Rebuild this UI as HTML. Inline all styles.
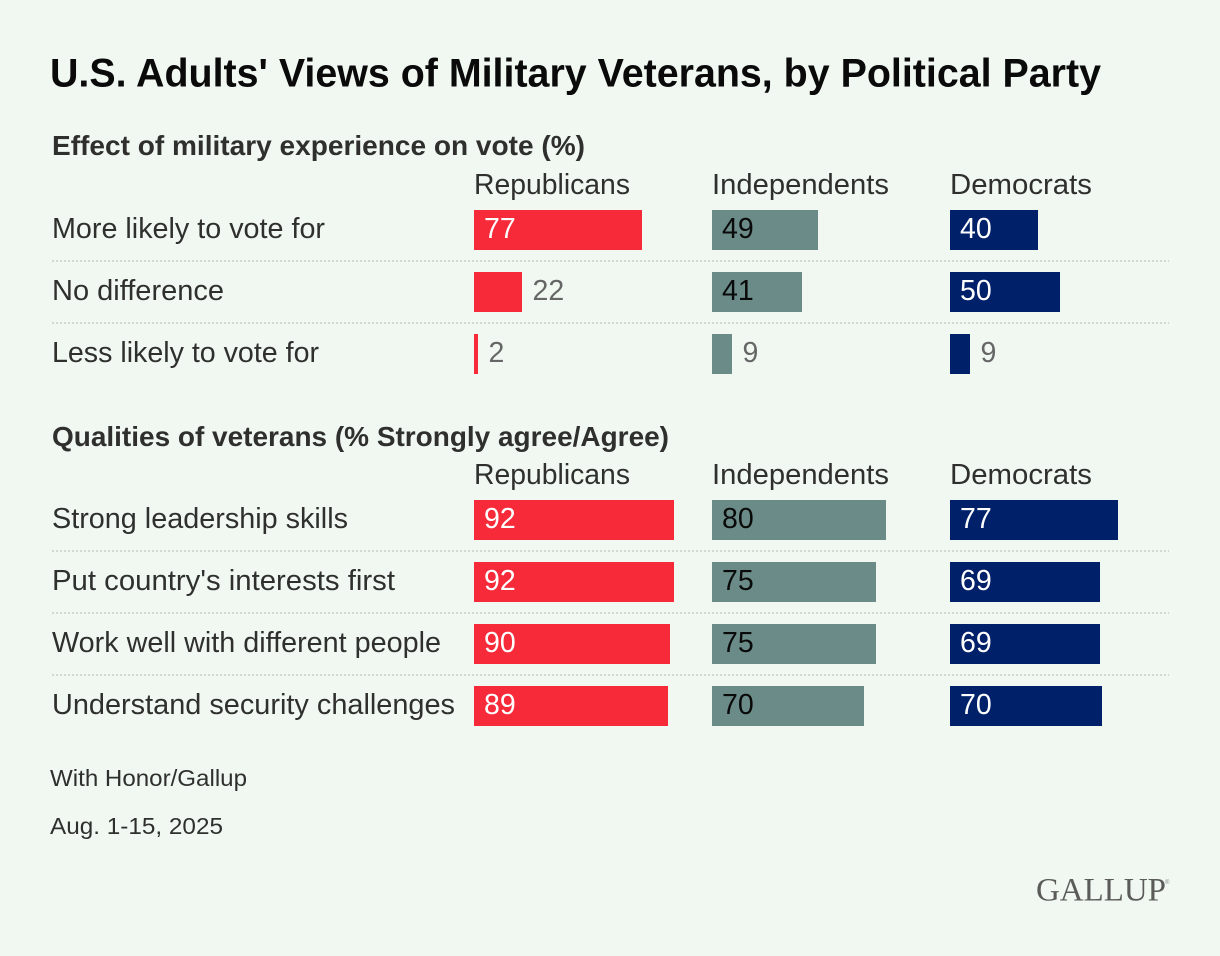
<!DOCTYPE html>
<html lang="en">
<head>
<meta charset="utf-8">
<title>U.S. Adults' Views of Military Veterans, by Political Party</title>
<style>
html,body{margin:0;padding:0;background:#f1f8f1;}
svg{display:block;}
text{font-family:"Liberation Sans",sans-serif;}
</style>
</head>
<body>
<svg id="chart" width="1220" height="956" viewBox="0 0 1220 956" xmlns="http://www.w3.org/2000/svg">
<rect x="0" y="0" width="1220" height="956" fill="#f1f8f1"/>
<text x="50" y="86.5" font-size="39.5" font-weight="700" fill="#0a0a0a" textLength="1051" lengthAdjust="spacingAndGlyphs">U.S. Adults' Views of Military Veterans, by Political Party</text>
<text x="50" y="786" font-size="23.5" fill="#2f302e" textLength="197" lengthAdjust="spacingAndGlyphs">With Honor/Gallup</text>
<text x="50" y="834" font-size="23.5" fill="#2f302e" textLength="173" lengthAdjust="spacingAndGlyphs">Aug. 1-15, 2025</text>
<text x="1036" y="900.5" font-size="33" fill="#5b5b59" style="font-family:'Liberation Serif',serif" textLength="130" lengthAdjust="spacingAndGlyphs">GALLUP</text>
<text x="1165" y="884" font-size="6" fill="#8a8a88">®</text>
</svg>
<script>
const voteTitle = "Effect of military experience on vote (%)";
const voteCategories = ["More likely to vote for", "No difference", "Less likely to vote for"];
const voteRepublicans = [77, 22, 2];
const voteIndependents = [49, 41, 9];
const voteDemocrats = [40, 50, 9];

const qualityTitle = "Qualities of veterans (% Strongly agree/Agree)";
const qualityCategories = ["Strong leadership skills", "Put country's interests first", "Work well with different people", "Understand security challenges"];
const qualityRepublicans = [92, 92, 90, 89];
const qualityIndependents = [80, 75, 75, 70];
const qualityDemocrats = [77, 69, 69, 70];

const partyNames = ["Republicans", "Independents", "Democrats"];

const svg = document.getElementById('chart');
const NS = 'http://www.w3.org/2000/svg';
const UNIT = 2.18;
const ROW_STEP = 62;
const BAR_H = 40;
const LEFT = 52;
const RIGHT = 1169;
const INSIDE_MIN = 30;
const colOrigin = [474, 712, 950];
const colFill = ['#f72a3a', '#6a8b87', '#002169'];
const insideInk = ['#ffffff', '#0a0a0a', '#ffffff'];
const headWidth = {"Republicans": 156, "Independents": 177, "Democrats": 142};
const textWidth = {
  "Effect of military experience on vote (%)": 533,
  "Qualities of veterans (% Strongly agree/Agree)": 617,
  "More likely to vote for": 273,
  "No difference": 172,
  "Less likely to vote for": 267,
  "Strong leadership skills": 296,
  "Put country's interests first": 343,
  "Work well with different people": 389,
  "Understand security challenges": 403
};

function widthScale(v) { return 2 * Math.round(v * UNIT / 2); }
function xScale(col, v) { return colOrigin[col] + widthScale(v); }
function yScale(top, row) { return top + row * ROW_STEP; }

function addText(str, x, y, size, fill, weight, len) {
  const t = document.createElementNS(NS, 'text');
  t.setAttribute('x', x);
  t.setAttribute('y', y);
  t.setAttribute('font-size', size);
  t.setAttribute('fill', fill);
  if (weight) t.setAttribute('font-weight', weight);
  if (len) {
    t.setAttribute('textLength', len);
    t.setAttribute('lengthAdjust', 'spacingAndGlyphs');
  }
  t.textContent = str;
  svg.appendChild(t);
  return t;
}

function drawSection(key, title, categories, seriesList, titleY, headY, top) {
  const heading = addText(title, LEFT, titleY, 27.5, '#2f302e', 700, textWidth[title]);
  
  

  partyNames.forEach(function (name, c) {
    const h = addText(name, colOrigin[c], headY, 28.5, '#2f302e', null, headWidth[name]);
    
    
  });

  categories.forEach(function (cat, r) {
    const y = yScale(top, r);
    const label = addText(cat, LEFT, y + 28, 28.5, '#2f302e', null, textWidth[cat]);
    
    

    if (r < categories.length - 1) {
      const line = document.createElementNS(NS, 'line');
      line.setAttribute('x1', LEFT);
      line.setAttribute('x2', RIGHT);
      line.setAttribute('y1', y + 51);
      line.setAttribute('y2', y + 51);
      line.setAttribute('stroke', '#d3d8d2');
      line.setAttribute('stroke-width', '2');
      line.setAttribute('stroke-dasharray', '2 2');
      
      
      svg.appendChild(line);
    }

    seriesList.forEach(function (values, c) {
      const v = values[r];
      const w = widthScale(v);
      const bar = document.createElementNS(NS, 'rect');
      bar.setAttribute('x', colOrigin[c]);
      bar.setAttribute('y', y);
      bar.setAttribute('width', w);
      bar.setAttribute('height', BAR_H);
      bar.setAttribute('fill', colFill[c]);
      
      
      svg.appendChild(bar);

      const inside = v >= INSIDE_MIN;
      const vx = inside ? colOrigin[c] + 10 : xScale(c, v) + 10.5;
      const val = addText(String(v), vx, y + 28, 28.5, inside ? insideInk[c] : '#666666');
      
      
    });
  });
}

drawSection('vote', voteTitle, voteCategories, [voteRepublicans, voteIndependents, voteDemocrats], 155, 194, 210);
drawSection('quality', qualityTitle, qualityCategories, [qualityRepublicans, qualityIndependents, qualityDemocrats], 446, 484, 500);
</script>
</body>
</html>
